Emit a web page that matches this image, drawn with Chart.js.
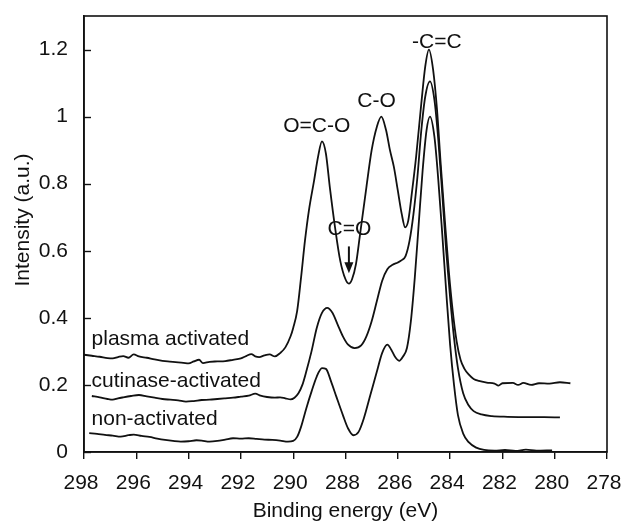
<!DOCTYPE html>
<html>
<head>
<meta charset="utf-8">
<script src="https://cdn.jsdelivr.net/npm/chart.js@4"></script>
<style>
  html, body { margin: 0; padding: 0; background: #fff; }
  #wrap { width: 621px; height: 526px; }
</style>
</head>
<body>
<div id="wrap"><canvas id="c" width="621" height="526"></canvas></div>
<script>
// ---- Data (binding energy in eV, intensity in a.u.) ----
const xTicks = [298, 296, 294, 292, 290, 288, 286, 284, 282, 280, 278];
const yTicks = [0, 0.2, 0.4, 0.6, 0.8, 1, 1.2];

const plasmaE = [298.0,297.7,297.4,297.1,296.9,296.7,296.5,296.3,296.1,295.9,295.6,295.3,295.0,294.8,294.5,294.2,294.0,293.8,293.6,293.45,293.2,292.9,292.6,292.3,292.0,291.8,291.6,291.45,291.3,291.1,290.9,290.7,290.5,290.3,290.1,290.0,289.85,289.7,289.55,289.4,289.2,289.05,288.9,288.75,288.6,288.4,288.2,288.0,287.87,287.75,287.6,287.45,287.2,287.0,286.8,286.63,286.45,286.3,286.15,286.0,285.85,285.72,285.6,285.45,285.3,285.1,284.95,284.81,284.65,284.5,284.36,284.2,284.05,283.9,283.75,283.6,283.45,283.3,283.1,282.9,282.6,282.3,282.15,282.0,281.6,281.4,281.2,280.9,280.6,280.2,279.8,279.4];
const plasmaI = [0.290,0.287,0.284,0.280,0.279,0.283,0.286,0.281,0.291,0.285,0.281,0.276,0.272,0.270,0.268,0.266,0.264,0.270,0.275,0.265,0.269,0.270,0.271,0.275,0.279,0.286,0.292,0.285,0.283,0.288,0.291,0.285,0.295,0.312,0.345,0.370,0.420,0.520,0.630,0.720,0.810,0.880,0.926,0.890,0.790,0.670,0.570,0.515,0.502,0.515,0.560,0.645,0.790,0.900,0.970,1.000,0.960,0.900,0.850,0.780,0.710,0.670,0.690,0.780,0.880,1.040,1.150,1.200,1.140,1.020,0.860,0.690,0.540,0.420,0.330,0.275,0.248,0.232,0.218,0.212,0.207,0.204,0.198,0.205,0.206,0.200,0.206,0.200,0.205,0.204,0.208,0.205];

const cutinaseE = [297.7,297.4,297.1,296.9,296.7,296.5,296.2,295.9,295.6,295.3,295.0,294.7,294.4,294.1,293.8,293.5,293.2,292.9,292.6,292.3,292.0,291.7,291.45,291.25,291.0,290.7,290.5,290.3,290.1,289.95,289.8,289.65,289.5,289.3,289.1,288.9,288.7,288.5,288.3,288.1,287.9,287.65,287.4,287.2,287.0,286.8,286.6,286.4,286.2,286.0,285.85,285.7,285.55,285.4,285.25,285.1,284.95,284.77,284.6,284.45,284.3,284.15,284.0,283.85,283.7,283.5,283.3,283.1,282.8,282.4,281.8,281.0,280.4,279.8];
const cutinaseI = [0.167,0.163,0.158,0.156,0.160,0.163,0.167,0.170,0.166,0.162,0.158,0.156,0.154,0.150,0.152,0.155,0.156,0.158,0.160,0.162,0.165,0.168,0.174,0.168,0.164,0.162,0.163,0.160,0.157,0.162,0.175,0.200,0.240,0.300,0.370,0.415,0.430,0.415,0.380,0.345,0.320,0.310,0.318,0.345,0.390,0.450,0.510,0.545,0.558,0.565,0.572,0.585,0.630,0.710,0.820,0.960,1.060,1.105,1.050,0.930,0.770,0.600,0.460,0.340,0.250,0.175,0.140,0.122,0.112,0.107,0.105,0.104,0.104,0.103];

const nonE = [297.8,297.5,297.2,296.9,296.6,296.3,296.1,295.8,295.5,295.2,294.9,294.6,294.3,294.0,293.7,293.5,293.2,292.9,292.6,292.3,292.0,291.7,291.4,291.1,290.8,290.5,290.2,290.0,289.85,289.7,289.5,289.3,289.1,288.9,288.75,288.55,288.35,288.1,287.9,287.7,287.5,287.3,287.05,286.8,286.6,286.4,286.25,286.1,285.95,285.8,285.65,285.5,285.35,285.2,285.05,284.9,284.77,284.6,284.45,284.3,284.15,284.0,283.85,283.7,283.5,283.3,283.0,282.7,282.3,281.9,281.5,281.1,280.7,280.1];
const nonI = [0.056,0.054,0.051,0.049,0.046,0.050,0.052,0.048,0.045,0.040,0.036,0.033,0.031,0.032,0.035,0.034,0.031,0.033,0.037,0.041,0.040,0.041,0.039,0.037,0.036,0.034,0.031,0.033,0.045,0.075,0.130,0.180,0.225,0.250,0.248,0.210,0.165,0.110,0.070,0.050,0.060,0.100,0.170,0.240,0.295,0.320,0.305,0.283,0.272,0.285,0.310,0.390,0.520,0.680,0.840,0.960,1.000,0.940,0.810,0.650,0.480,0.320,0.200,0.110,0.055,0.030,0.013,0.006,0.004,0.006,0.003,0.007,0.004,0.005];

const seriesNames = ["plasma activated", "cutinase-activated", "non-activated"];
const peakLabels = ["O=C-O", "C-O", "-C=C", "C=O"];
const peakLabelE = [289.1, 286.81, 284.51, 287.85];
const peakLabelI = [0.955, 1.03, 1.206, 0.648];
const seriesLabelE = [297.71, 297.71, 297.71];
const seriesLabelI = [0.318, 0.195, 0.081];
const arrowE = 287.87, arrowFromI = 0.613, arrowToI = 0.533;

// ---- build ----
function pts(E, I) { return E.map((e, i) => ({ x: e, y: I[i] })); }
const FONT = "'Liberation Sans', Arial, sans-serif";
const ink = '#111';

const overlay = {
  id: 'overlay',
  afterDraw(chart) {
    const ctx = chart.ctx, ca = chart.chartArea;
    const xs = chart.scales.x, ys = chart.scales.y;
    ctx.save();
    // frame
    ctx.strokeStyle = ink; ctx.lineWidth = 1.6;
    ctx.strokeRect(ca.left, ca.top, ca.right - ca.left, ca.bottom - ca.top);
    // inward y ticks
    ctx.lineWidth = 1.4;
    yTicks.forEach(v => {
      const py = Math.round(ys.getPixelForValue(v)) + 0.5;
      ctx.beginPath(); ctx.moveTo(ca.left, py); ctx.lineTo(ca.left + 7, py); ctx.stroke();
    });
    // peak labels
    ctx.fillStyle = ink;
    ctx.font = '21px ' + FONT;
    ctx.textAlign = 'center'; ctx.textBaseline = 'alphabetic';
    peakLabels.forEach((t, i) => {
      ctx.fillText(t, xs.getPixelForValue(peakLabelE[i]), ys.getPixelForValue(peakLabelI[i]));
    });
    // series labels
    ctx.textAlign = 'left';
    seriesNames.forEach((t, i) => {
      ctx.fillText(t, xs.getPixelForValue(seriesLabelE[i]), ys.getPixelForValue(seriesLabelI[i]));
    });
    // arrow
    const ax = xs.getPixelForValue(arrowE);
    const ay1 = ys.getPixelForValue(arrowFromI), ay2 = ys.getPixelForValue(arrowToI);
    ctx.lineWidth = 2;
    ctx.beginPath(); ctx.moveTo(ax, ay1); ctx.lineTo(ax, ay2 - 9); ctx.stroke();
    ctx.beginPath(); ctx.moveTo(ax - 4.5, ay2 - 11); ctx.lineTo(ax + 4.5, ay2 - 11); ctx.lineTo(ax, ay2); ctx.closePath(); ctx.fill();
    // y axis title
    ctx.save();
    ctx.translate(23, 220);
    ctx.rotate(-Math.PI / 2);
    ctx.textAlign = 'center'; ctx.textBaseline = 'middle';
    ctx.fillText('Intensity (a.u.)', 0, 0);
    ctx.restore();
    ctx.restore();
  }
};

const ds = (label, E, I) => ({
  label, data: pts(E, I), borderColor: ink, borderWidth: 1.8,
  pointRadius: 0, fill: false, cubicInterpolationMode: 'monotone'
});

new Chart(document.getElementById('c'), {
  type: 'line',
  data: {
    datasets: [
      ds(seriesNames[0], plasmaE, plasmaI),
      ds(seriesNames[1], cutinaseE, cutinaseI),
      ds(seriesNames[2], nonE, nonI)
    ]
  },
  options: {
    responsive: false,
    animation: false,
    layout: { padding: { top: 16, right: 14, left: 0, bottom: 0 } },
    plugins: { legend: { display: false }, tooltip: { enabled: false } },
    scales: {
      x: {
        type: 'linear', reverse: true, min: 278, max: 298,
        afterBuildTicks: s => { s.ticks = xTicks.map(v => ({ value: v })); },
        afterFit: s => { s.height = 74; s.paddingLeft = 0; s.paddingRight = 0; },
        grid: { drawOnChartArea: false, drawTicks: true, tickLength: 7, color: ink, lineWidth: 1.4 },
        border: { display: true, color: ink, width: 1.6 },
        ticks: { color: ink, font: { family: FONT, size: 21 }, padding: 12, maxRotation: 0, autoSkip: false,
                 labelOffset: -3, callback: v => String(v) },
        title: { display: true, text: 'Binding energy (eV)', color: ink, font: { family: FONT, size: 21 },
                 padding: { top: 0, bottom: 2 } }
      },
      y: {
        type: 'linear', min: 0, max: 1.3,
        afterBuildTicks: s => { s.ticks = yTicks.map(v => ({ value: v })); },
        afterFit: s => { s.width = 84; s.paddingTop = 0; s.paddingBottom = 0; },
        grid: { drawOnChartArea: false, drawTicks: false },
        border: { display: true, color: ink, width: 1.6 },
        ticks: { color: ink, font: { family: FONT, size: 21 }, padding: 16, autoSkip: false,
                 callback: v => String(Math.round(v * 10) / 10) }
      }
    }
  },
  plugins: [overlay]
});
</script>
</body>
</html>
